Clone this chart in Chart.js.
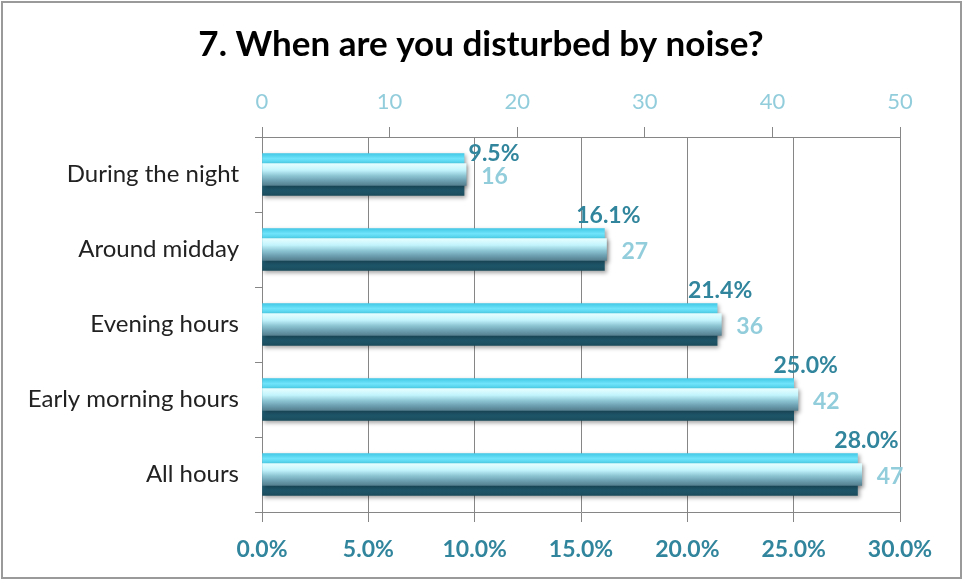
<!DOCTYPE html>
<html>
<head>
<meta charset="utf-8">
<script src="https://cdn.jsdelivr.net/npm/chart.js@4"></script>
<style>
  html, body { margin: 0; padding: 0; background: #fff; }
  #wrap { position: relative; width: 962px; height: 579px; }
  #frame { position: absolute; left: 1px; top: 1px; width: 957px; height: 574px; border: 2px solid #9a9a9a; pointer-events: none; }
  canvas { display: block; }
</style>
</head>
<body>
<div id="wrap">
  <canvas id="c" width="962" height="579"></canvas>
  <div id="frame"></div>
</div>
<script>
const categories = ["During the night", "Around midday", "Evening hours", "Early morning hours", "All hours"];
const percentValues = [9.5, 16.1, 21.4, 25.0, 28.0];
const countValues = [16, 27, 36, 42, 47];
const titleText = "7. When are you disturbed by noise?";

const FONT = "Lato, 'Open Sans', sans-serif";
const PCT_COLOR = "#31859C";
const CNT_COLOR = "#92CDDC";

// label nudges (style only)
const pctNudge = [[30, 0], [4, -13], [3, -13], [12, -13], [9, -13]];

function barGradient(ctx, thickness, stops) {
  const chart = ctx.chart;
  const yScale = chart.scales.y;
  if (!chart.chartArea || !yScale) return stops[0][1];
  const yc = yScale.getPixelForValue(ctx.dataIndex);
  const g = chart.ctx.createLinearGradient(0, yc - thickness / 2, 0, yc + thickness / 2);
  stops.forEach(s => g.addColorStop(s[0], s[1]));
  return g;
}

const pctStops = [[0, "#43C9E6"], [0.12, "#6FE3FA"], [0.25, "#49CFEA"], [0.5, "#3294AA"], [0.75, "#22627A"], [1, "#1A4C5C"]];
const cntStops = [[0, "#E6FEFF"], [0.3, "#C2F4FC"], [0.55, "#8EC6D4"], [0.8, "#6A9DAE"], [1, "#557F8E"]];

const shadowPlugin = {
  id: "shadow",
  beforeDatasetDraw(chart) {
    const ctx = chart.ctx;
    ctx.save();
    ctx.shadowColor = "rgba(0,0,0,0.35)";
    ctx.shadowBlur = 4;
    ctx.shadowOffsetX = 2;
    ctx.shadowOffsetY = 2;
  },
  afterDatasetDraw(chart) {
    chart.ctx.restore();
  }
};

const labelPlugin = {
  id: "valueLabels",
  afterDatasetsDraw(chart) {
    const ctx = chart.ctx;
    ctx.save();
    const m0 = chart.getDatasetMeta(0);
    ctx.font = "bold 23px " + FONT;
    ctx.fillStyle = PCT_COLOR;
    ctx.textAlign = "center";
    ctx.textBaseline = "middle";
    m0.data.forEach((el, i) => {
      const n = pctNudge[i];
      ctx.fillText(percentValues[i].toFixed(1) + "%", el.x + n[0], el.y - 21 + n[1]);
    });
    const m1 = chart.getDatasetMeta(1);
    ctx.fillStyle = CNT_COLOR;
    ctx.textAlign = "left";
    m1.data.forEach((el, i) => {
      ctx.fillText(String(countValues[i]), el.x + 15, el.y + 2);
    });
    ctx.restore();
  }
};

new Chart(document.getElementById("c"), {
  type: "bar",
  data: {
    labels: categories,
    datasets: [
      {
        label: "Percent",
        data: percentValues,
        xAxisID: "x",
        grouped: false,
        barThickness: 42,
        order: 2,
        borderWidth: 0,
        backgroundColor: ctx => barGradient(ctx, 42, pctStops)
      },
      {
        label: "Count",
        data: countValues,
        xAxisID: "x2",
        grouped: false,
        barThickness: 22,
        order: 1,
        borderWidth: 0,
        backgroundColor: ctx => barGradient(ctx, 22, cntStops)
      }
    ]
  },
  options: {
    indexAxis: "y",
    responsive: false,
    animation: false,
    layout: { padding: 0 },
    plugins: {
      legend: { display: false },
      tooltip: { enabled: false },
      title: {
        display: true,
        text: titleText,
        color: "#000",
        font: { family: FONT, size: 35, weight: "bold", lineHeight: 1.2 },
        padding: { top: 24, bottom: 0 }
      }
    },
    scales: {
      y: {
        type: "category",
        offset: true,
        grid: { display: true, drawOnChartArea: false, offset: true, tickLength: 7, color: "#868686" },
        border: { display: true, color: "#868686" },
        ticks: { color: "#222", font: { family: FONT, size: 24 }, padding: 16 },
        afterFit(s) { s.width = 262; }
      },
      yR: {
        type: "linear",
        position: "right",
        display: true,
        grid: { display: false },
        border: { display: false },
        ticks: { display: false },
        afterFit(s) { s.width = 62; }
      },
      x: {
        position: "bottom",
        min: 0, max: 30,
        ticks: { stepSize: 5, color: PCT_COLOR, font: { family: FONT, size: 23, weight: "bold" }, padding: 14,
                 callback: v => Number(v).toFixed(1) + "%" },
        grid: { color: "#868686", tickLength: 10 },
        border: { display: true, color: "#868686" },
        afterFit(s) { s.height = 67; }
      },
      x2: {
        position: "top",
        min: 0, max: 50,
        ticks: { stepSize: 10, color: CNT_COLOR, font: { family: FONT, size: 22 }, padding: 12 },
        grid: { drawOnChartArea: false, tickLength: 10, color: "#868686" },
        border: { display: true, color: "#868686" },
        afterFit(s) { s.height = 137 - 66; }
      }
    }
  },
  plugins: [shadowPlugin, labelPlugin]
});
</script>
</body>
</html>
